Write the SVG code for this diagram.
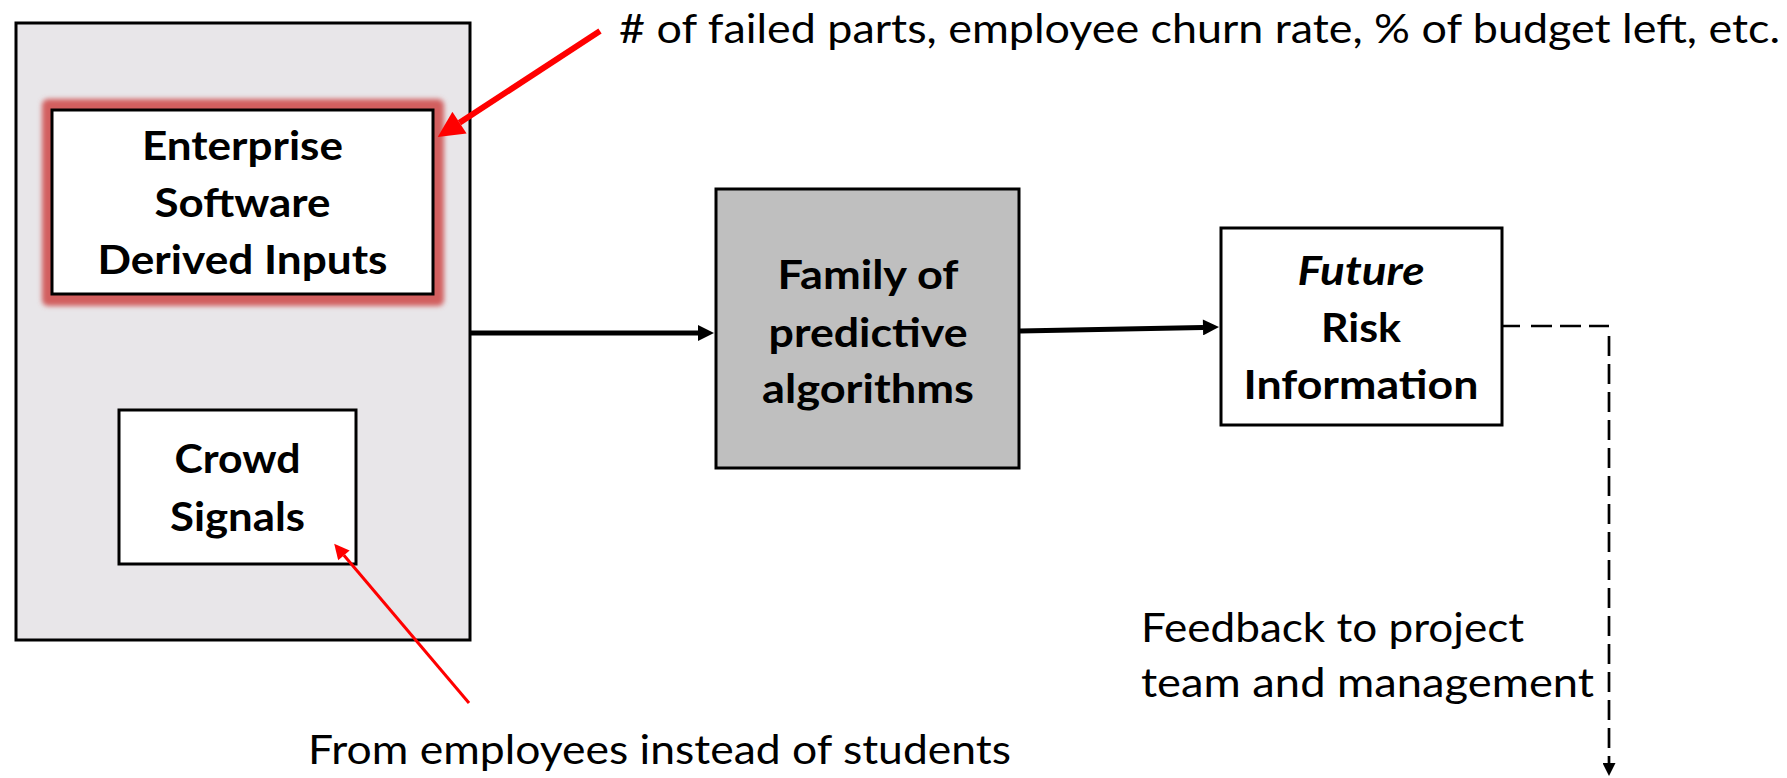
<svg xmlns="http://www.w3.org/2000/svg" width="1787" height="778" viewBox="0 0 1787 778">
<style>
.bx{stroke:#000;stroke-width:3}
.bt{font-family:Lato,"Noto Sans",sans-serif;font-weight:bold;font-size:40px;fill:#000;text-anchor:middle}
.lt{font-family:Lato,"Noto Sans",sans-serif;font-size:40px;fill:#000}
.blk{stroke:#000;stroke-width:5;fill:none}
.red{stroke:#FF0000;fill:none}
</style>
<defs>
<filter id="glow" x="-20%" y="-20%" width="140%" height="140%"><feGaussianBlur stdDeviation="2.5"/></filter>
<marker id="ahB" markerUnits="userSpaceOnUse" viewBox="0 0 10 10" refX="0" refY="5" markerWidth="18" markerHeight="16" orient="auto"><path d="M0,0 L10,5 L0,10 z" fill="#000"/></marker>
<marker id="ahD" markerUnits="userSpaceOnUse" viewBox="0 0 10 10" refX="0" refY="5" markerWidth="15" markerHeight="13" orient="auto"><path d="M0,0 L10,5 L0,10 z" fill="#000"/></marker>
<marker id="ahR1" markerUnits="userSpaceOnUse" viewBox="0 0 10 10" refX="0" refY="5" markerWidth="28" markerHeight="26" orient="auto"><path d="M0,0 L10,5 L0,10 z" fill="#FF0000"/></marker>
<marker id="ahR2" markerUnits="userSpaceOnUse" viewBox="0 0 10 10" refX="0" refY="5" markerWidth="20" markerHeight="15" orient="auto"><path d="M0,0 L10,5 L0,10 z" fill="#FF0000"/></marker>
</defs>
<rect width="1787" height="778" fill="#fff"/>
<g id="container">
<rect class="bx" x="16" y="23" width="454" height="617" fill="#E8E6E9"/>
</g>
<g id="enterprise">
<rect x="42" y="99" width="402" height="207" rx="6" fill="#D25E5E" filter="url(#glow)"/>
<rect class="bx" x="52" y="110" width="381" height="184" fill="#fff"/>
<text class="bt" x="242.5" y="160" textLength="201" lengthAdjust="spacingAndGlyphs">Enterprise</text>
<text class="bt" x="242.5" y="217" textLength="176" lengthAdjust="spacingAndGlyphs">Software</text>
<text class="bt" x="242.5" y="274" textLength="290" lengthAdjust="spacingAndGlyphs">Derived Inputs</text>
</g>
<g id="crowd">
<rect class="bx" x="119" y="410" width="237" height="154" fill="#fff"/>
<text class="bt" x="237.5" y="473" textLength="126" lengthAdjust="spacingAndGlyphs">Crowd</text>
<text class="bt" x="237.5" y="531" textLength="135" lengthAdjust="spacingAndGlyphs">Signals</text>
</g>
<g id="family">
<rect class="bx" x="716" y="189" width="303" height="279" fill="#BFBFBF"/>
<text class="bt" x="868" y="289" textLength="181" lengthAdjust="spacingAndGlyphs">Family of</text>
<text class="bt" x="868" y="347" textLength="199" lengthAdjust="spacingAndGlyphs">predictive</text>
<text class="bt" x="868" y="403" textLength="212" lengthAdjust="spacingAndGlyphs">algorithms</text>
</g>
<g id="future">
<rect class="bx" x="1221" y="228" width="281" height="197" fill="#fff"/>
<text class="bt" x="1361" y="285" font-style="italic" textLength="127" lengthAdjust="spacingAndGlyphs">Future</text>
<text class="bt" x="1361" y="342" textLength="80" lengthAdjust="spacingAndGlyphs">Risk</text>
<text class="bt" x="1361" y="399" textLength="235" lengthAdjust="spacingAndGlyphs">Information</text>
</g>
<g id="labels">
<text class="lt" x="619" y="43" textLength="1161" lengthAdjust="spacingAndGlyphs"># of failed parts, employee churn rate, % of budget left, etc.</text>
<text class="lt" x="308" y="764" textLength="703" lengthAdjust="spacingAndGlyphs">From employees instead of students</text>
<text class="lt" x="1141" y="642" textLength="383" lengthAdjust="spacingAndGlyphs">Feedback to project</text>
<text class="lt" x="1141" y="697" textLength="453" lengthAdjust="spacingAndGlyphs">team and management</text>
</g>
<g id="connectors">
<line class="blk" x1="470" y1="333" x2="698" y2="333" marker-end="url(#ahB)"/>
<line class="blk" x1="1020" y1="331" x2="1203" y2="327.4" marker-end="url(#ahB)"/>
<path d="M1502,326 H1609" fill="none" stroke="#000" stroke-width="2.7" stroke-dasharray="18 11 21 8 21 8 21 8"/>
<path d="M1609,336 V763" fill="none" stroke="#000" stroke-width="2.7" stroke-dasharray="20 8" marker-end="url(#ahD)"/>
<line class="red" stroke-width="6" x1="600" y1="31" x2="459.5" y2="122.7" marker-end="url(#ahR1)"/>
<line class="red" stroke-width="3" x1="469" y1="703" x2="343.9" y2="555.3" marker-end="url(#ahR2)"/>
</g>
</svg>
